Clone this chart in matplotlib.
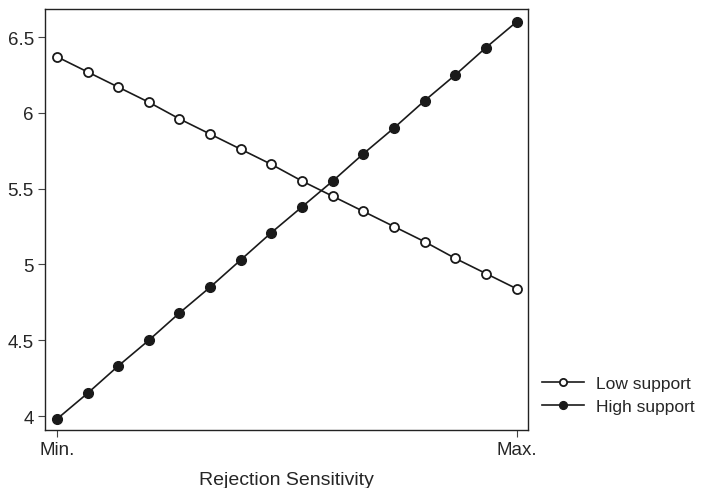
import numpy as np
import matplotlib
matplotlib.use('Agg')
import matplotlib.pyplot as plt

plt.rcParams['font.family'] = ['Liberation Sans', 'DejaVu Sans']

# values, 16 evenly spaced points from Min. to Max.
steps = list(range(16))
low_support = [6.37, 6.27, 6.17, 6.07, 5.96, 5.86, 5.76, 5.66,
               5.55, 5.45, 5.35, 5.25, 5.15, 5.04, 4.94, 4.84]
high_support = [3.98, 4.15, 4.33, 4.50, 4.68, 4.85, 5.03, 5.21,
                5.38, 5.55, 5.73, 5.90, 6.08, 6.25, 6.43, 6.60]
x_ticks = [0, 15]
x_tick_labels = ['Min.', 'Max.']
y_ticks = [4, 4.5, 5, 5.5, 6, 6.5]
y_tick_labels = ['4', '4.5', '5', '5.5', '6', '6.5']

txt = '#262626'
fig = plt.figure(figsize=(7.02, 4.89), dpi=100)
ax = fig.add_axes([0.064, 0.1186, 0.688, 0.861])

col = '#1a1a1a'
l1, = ax.plot(steps, low_support, color=col, lw=1.2, marker='o', ms=6.5,
              mfc='white', mec=col, mew=1.3, label='Low support')
l2, = ax.plot(steps, high_support, color=col, lw=1.2, marker='o', ms=7,
              mfc=col, mec=col, mew=1.0, label='High support')

ax.set_xlim(-0.39, 15.37)
ax.set_ylim(3.908, 6.685)
ax.set_xticks(x_ticks)
ax.set_xticklabels(x_tick_labels)
ax.set_yticks(y_ticks)
ax.set_yticklabels(y_tick_labels)
ax.tick_params(direction='out', length=5, width=0.8, labelsize=13.5, pad=3,
               color='#444444', labelcolor=txt)
ax.set_xlabel('Rejection Sensitivity', fontsize=14, labelpad=9, color=txt)
for s in ax.spines.values():
    s.set_linewidth(1.0)
    s.set_color('#222222')

leg = fig.legend(handles=[l1, l2], loc='center left', bbox_to_anchor=(0.75, 0.191),
                 frameon=False, fontsize=12.5, markerscale=0.8, handlelength=2.4,
                 handletextpad=0.7, labelspacing=0.45)
for t in leg.get_texts():
    t.set_color(txt)

fig.savefig('out.png', dpi=100)
